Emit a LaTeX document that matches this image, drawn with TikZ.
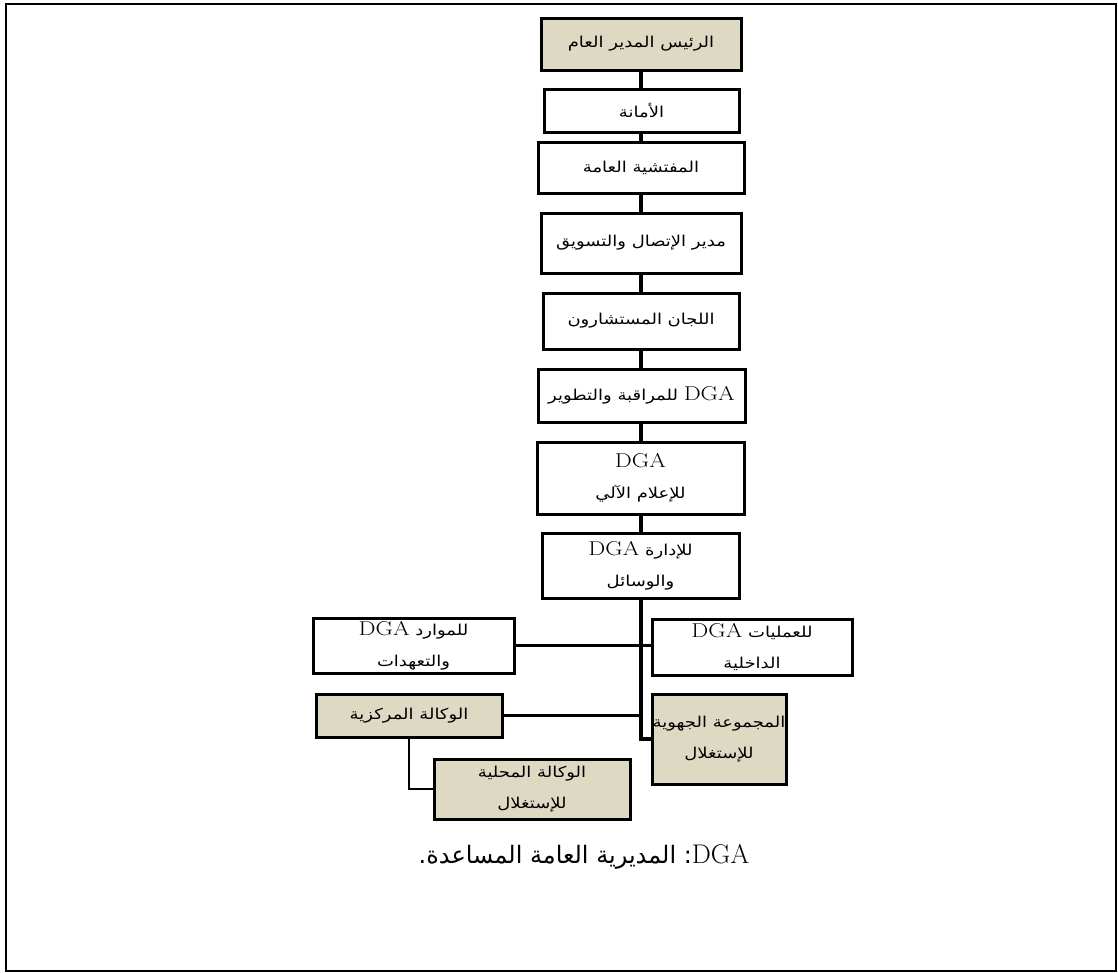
\documentclass[tikz,border=0pt]{standalone}
\usepackage{fontspec}
\usepackage{graphicx}
\newfontfamily\arabicfont[Script=Arabic]{DejaVu Sans}
\TeXXeTstate=1
\definecolor{boxtan}{HTML}{DDD9C3}
\newcommand\ar[1]{\scalebox{1.2}[1]{\arabicfont\beginR #1\endR}}
\newcommand\dga{\beginL{\normalfont\fontsize{20}{20}\selectfont DGA}\endL{}}
\begin{document}
\begin{tikzpicture}[x=1pt,y=-1pt,
  box/.style={draw, line width=3pt, inner sep=0pt, align=center,
    font=\fontsize{15}{31}\selectfont, fill=white},
  tanbox/.style={box, fill=boxtan},
  spineline/.style={line width=4pt},
  link/.style={line width=2.5pt}]
\useasboundingbox (0,0) rectangle (1118,972);
\draw[line width=2pt] (6,4) rectangle (1116,971);
\coordinate (sp) at (641,0);
% main column
\node[tanbox, minimum width=200pt, minimum height=52pt] (b1) at (641,44) {\ar{الرئيس المدير العام}};
\node[box, minimum width=195pt, minimum height=43pt] (b2) at (641.5,110.5) {\ar{الأمانة}};
\node[box, minimum width=206pt, minimum height=51pt] (b3) at (641,167.5) {\ar{المفتشية العامة}};
\node[box, minimum width=200pt, minimum height=60pt] (b4) at (641,243) {\ar{مدير الإتصال والتسويق}};
\node[box, minimum width=196pt, minimum height=56pt] (b5) at (641,321) {\ar{اللجان المستشارون}};
\node[box, minimum width=207pt, minimum height=53pt] (b6) at (641.5,395.5) {\ar{\dga{} للمراقبة والتطوير}};
\node[box, minimum width=207pt, minimum height=72pt] (b7) at (640.5,478) {\ar{\dga}\\\ar{للإعلام الآلي}};
\node[box, minimum width=197pt, minimum height=65pt] (b8) at (640.5,565.5) {\ar{للإدارة \dga}\\\ar{والوسائل}};
% branches
\node[box, minimum width=201pt, minimum height=55pt] (bl) at (413.5,645.5) {\ar{للموارد \dga}\\\ar{والتعهدات}};
\node[box, minimum width=200pt, minimum height=56pt] (br) at (752,647) {\ar{للعمليات \dga}\\\ar{الداخلية}};
\node[tanbox, minimum width=134pt, minimum height=90pt] (tr) at (719,739) {\ar{المجموعة الجهوية}\\\ar{للإستغلال}};
\node[tanbox, minimum width=186pt, minimum height=43pt] (tl) at (409,715.5) {\ar{الوكالة المركزية}};
\node[tanbox, minimum width=196pt, minimum height=60pt] (tb) at (532,789) {\ar{الوكالة المحلية}\\\ar{للإستغلال}};
% connectors
\foreach \a/\b in {b1/b2,b2/b3,b3/b4,b4/b5,b5/b6,b6/b7,b7/b8}
  \draw[spineline] (\a.south -| sp) -- (\b.north -| sp);
\draw[spineline] (b8.south -| sp) |- (tr.west);
\draw[link] (bl.east) -- (bl.east -| br.west);
\draw[link] (tl.east) -- (tl.east -| sp);
\draw[link] (tl.south) |- (tb.west);
% caption
\node[font=\fontsize{24}{28}\selectfont] (cap) at (584,857)
  {{\arabicfont\beginR\beginL{\normalfont\fontsize{27}{28}\selectfont DGA}\endL: المديرية العامة المساعدة.\endR}};
\end{tikzpicture}
\end{document}
